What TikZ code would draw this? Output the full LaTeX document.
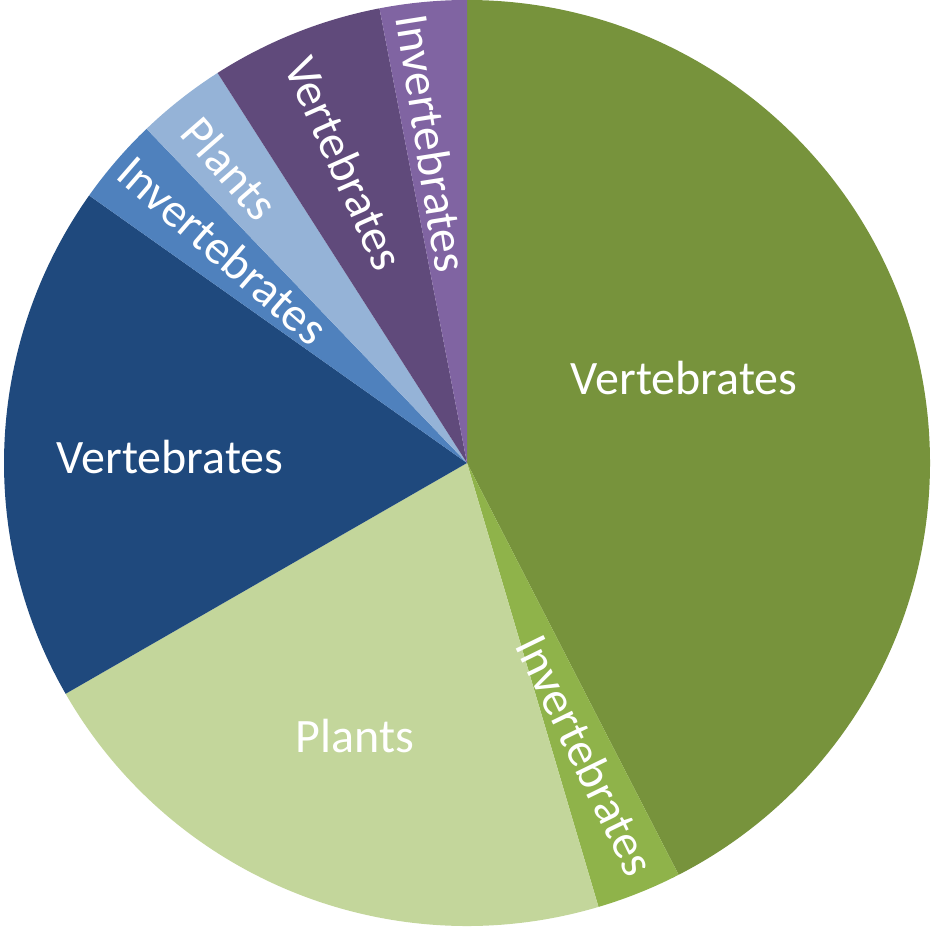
\documentclass[tikz,border=0pt]{standalone}
\usepackage{fontspec}
\setmainfont{Carlito}
\definecolor{gdark}{HTML}{77933C}
\definecolor{gmid}{HTML}{8FB34A}
\definecolor{gpale}{HTML}{C3D69B}
\definecolor{bdark}{HTML}{1F497D}
\definecolor{bmid}{HTML}{4F81BD}
\definecolor{bpale}{HTML}{95B3D7}
\definecolor{pdark}{HTML}{604A7B}
\definecolor{pmid}{HTML}{8064A2}
\begin{document}
\begin{tikzpicture}[x=1pt,y=1pt,
  lbl/.style={text=white,font=\fontsize{48}{52}\selectfont,inner sep=0pt}]
\useasboundingbox (0,0) rectangle (933,926);
\coordinate (c) at (467,463);
\def\R{463}
\newcommand\slice[3]{\fill[#3] (c) -- ++(#1:\R) arc[start angle=#1,end angle=#2,radius=\R] -- cycle;}
\slice{90}{-62.8}{gdark}
\slice{-62.8}{-73.5}{gmid}
\slice{-73.5}{-150.1}{gpale}
\slice{209.9}{144.7}{bdark}
\slice{144.7}{133.8}{bmid}
\slice{133.8}{122.6}{bpale}
\slice{122.6}{100.9}{pdark}
\slice{100.9}{90}{pmid}
\node[lbl] (v1) at (684,548) {Vertebrates};
\node[lbl,rotate=-64] (i1) at (586,171) {Invertebrates};
\node[lbl] (p1) at (355,190) {Plants};
\node[lbl] (v2) at (170,469) {Vertebrates};
\node[lbl,rotate=-41] (i2) at (223,676) {Invertebrates};
\node[lbl,rotate=-49] (p2) at (230,758) {Plants};
\node[lbl,rotate=-66] (v3) at (345,763) {Vertebrates};
\node[lbl,rotate=-81] (i3) at (432,783) {Invertebrates};
\end{tikzpicture}
\end{document}
